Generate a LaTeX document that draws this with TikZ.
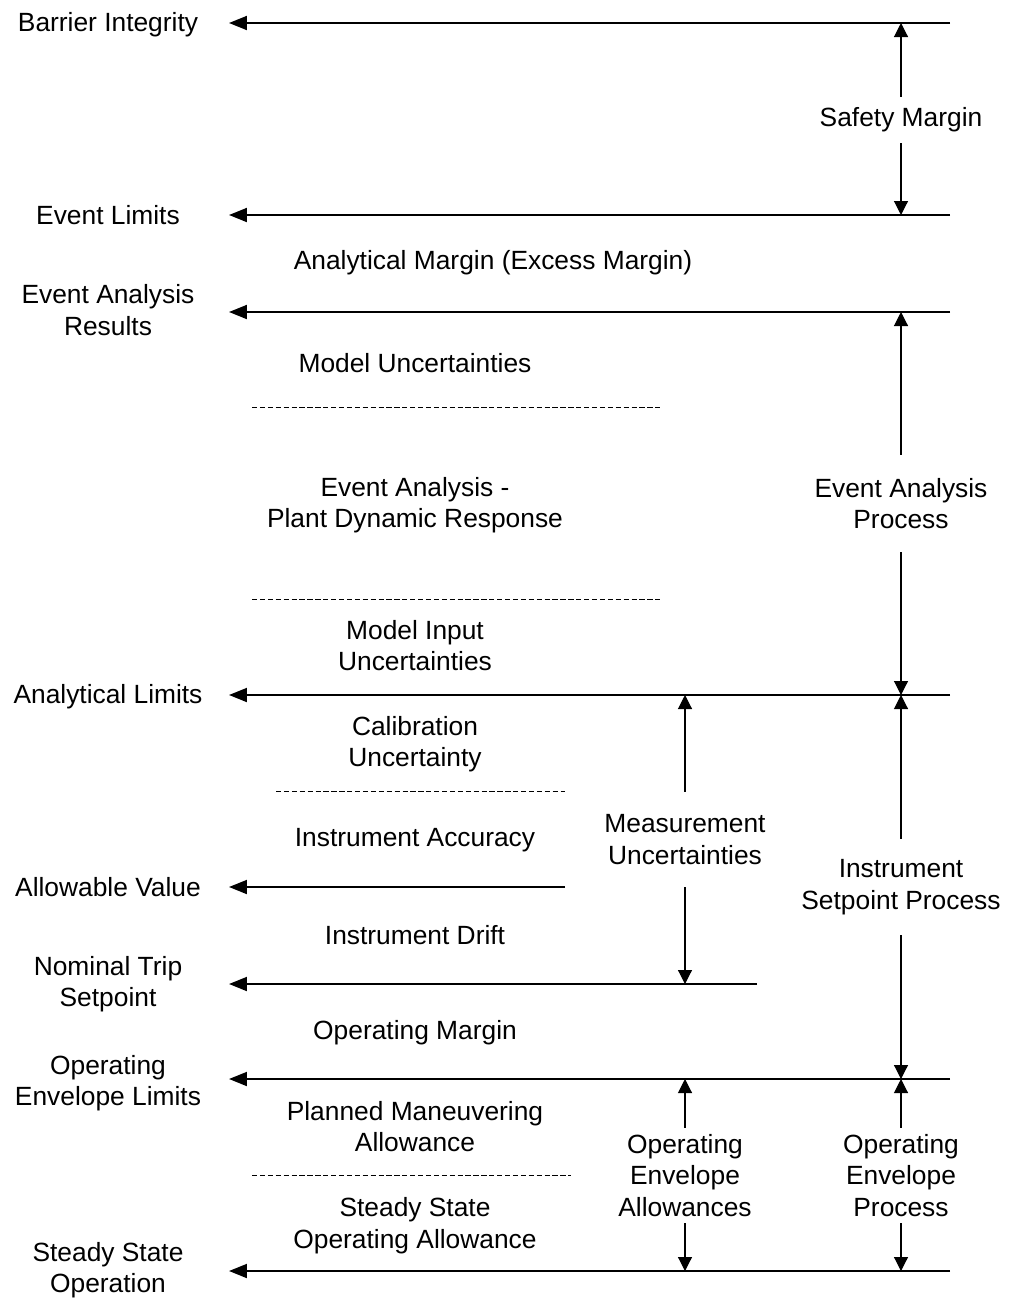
\documentclass[tikz,border=0pt]{standalone}
\usepackage{fontspec}
\setmainfont{Liberation Sans}
\usetikzlibrary{arrows.meta}
\begin{document}
\begin{tikzpicture}[x=0.02cm,y=-0.02cm,
  every node/.style={font=\fontsize{15}{17.86}\selectfont, align=center, inner sep=0pt},
  level/.style={line width=1.1pt, -{Triangle[length=0.36cm,width=0.28cm]}},
  span/.style={line width=0.65pt, -{Triangle[length=0.28cm,width=0.28cm]}},
  band/.style={line width=0.5pt, dash pattern=on 3pt off 1.5pt},
  gapbox/.style={minimum height=#1},
]
\useasboundingbox (0,0) rectangle (1008,1302);

% ---- levels: left-hand names ----
\node (bi-t)  at (108,25)     {Barrier Integrity};
\node (el-t)  at (108,215)    {Event Limits};
\node (ear-t) at (108,310)    {Event Analysis\\Results};
\node (al-t)  at (108,697)    {Analytical Limits};
\node (av-t)  at (108,887)    {Allowable Value};
\node (nts-t) at (108,984)    {Nominal Trip\\Setpoint};
\node (oel-t) at (108,1083)   {Operating\\Envelope Limits};
\node (sso-t) at (108,1270)   {Steady State\\Operation};

% ---- level lines ----
\coordinate (bi-l)  at (229,23);    \coordinate (bi-r)  at (950,23);
\coordinate (el-l)  at (229,215);   \coordinate (el-r)  at (950,215);
\coordinate (ear-l) at (229,312);   \coordinate (ear-r) at (950,312);
\coordinate (al-l)  at (229,695);   \coordinate (al-r)  at (950,695);
\coordinate (av-l)  at (229,887);   \coordinate (av-r)  at (565,887);
\coordinate (nts-l) at (229,984);   \coordinate (nts-r) at (757,984);
\coordinate (oel-l) at (229,1079);  \coordinate (oel-r) at (950,1079);
\coordinate (sso-l) at (229,1271);  \coordinate (sso-r) at (950,1271);

\draw[level] (bi-r)  -- (bi-l);
\draw[level] (el-r)  -- (el-l);
\draw[level] (ear-r) -- (ear-l);
\draw[level] (al-r)  -- (al-l);
\draw[level] (av-r)  -- (av-l);
\draw[level] (nts-r) -- (nts-l);
\draw[level] (oel-r) -- (oel-l);
\draw[level] (sso-r) -- (sso-l);

% ---- band separators ----
\coordinate (d1a) at (252,407);  \coordinate (d1b) at (661,407);
\coordinate (d2a) at (252,599);  \coordinate (d2b) at (661,599);
\coordinate (d3a) at (276,791);  \coordinate (d3b) at (565,791);
\coordinate (d4a) at (252,1175); \coordinate (d4b) at (571,1175);
\draw[band] (d1a) -- (d1b);
\draw[band] (d2a) -- (d2b);
\draw[band] (d3a) -- (d3b);
\draw[band] (d4a) -- (d4b);

% ---- band names ----
\node (am)  at (493,263)    {Analytical Margin (Excess Margin)};
\node (mu1) at (415,363)    {Model Uncertainties};
\node (pdr) at (415,505)    {Event Analysis -\\Plant Dynamic Response};
\node (miu) at (415,645.5)  {Model Input\\Uncertainties};
\node (cu)  at (415,744)    {Calibration\\Uncertainty};
\node (ia)  at (415,840)    {Instrument Accuracy};
\node (id)  at (415,935)    {Instrument Drift};
\node (om)  at (415,1033)   {Operating Margin};
\node (pma) at (415,1126.5) {Planned Maneuvering\\Allowance};
\node (ssa) at (415,1225.5) {Steady State\\Operating Allowance};

% ---- spans between levels ----
\node[gapbox=0.92cm] (sm) at (901,120)    {Safety Margin};
\node[gapbox=1.94cm] (ep) at (901,503.5)  {Event Analysis\\Process};
\node[gapbox=1.92cm] (ip) at (901,887)    {Instrument\\Setpoint Process};
\node[gapbox=1.90cm] (op) at (901,1175.5) {Operating\\Envelope\\Process};
\node[gapbox=1.90cm] (mu) at (685,839.5)  {Measurement\\Uncertainties};
\node[gapbox=1.90cm] (oa) at (685,1175.5) {Operating\\Envelope\\Allowances};

\draw[span] (sm) -- (sm |- bi-l);
\draw[span] (sm) -- (sm |- el-l);
\draw[span] (ep) -- (ep |- ear-l);
\draw[span] (ep) -- (ep |- al-l);
\draw[span] (ip) -- (ip |- al-l);
\draw[span] (ip) -- (ip |- oel-l);
\draw[span] (op) -- (op |- oel-l);
\draw[span] (op) -- (op |- sso-l);
\draw[span] (mu) -- (mu |- al-l);
\draw[span] (mu) -- (mu |- nts-l);
\draw[span] (oa) -- (oa |- oel-l);
\draw[span] (oa) -- (oa |- sso-l);
\end{tikzpicture}
\end{document}
